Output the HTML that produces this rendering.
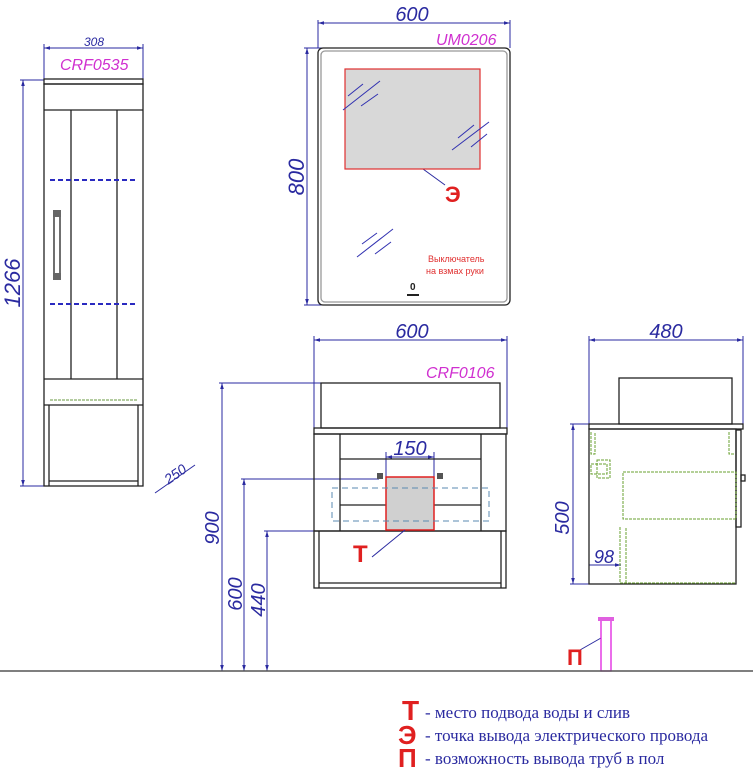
<!DOCTYPE html>
<html><head><meta charset="utf-8"><style>
html,body{margin:0;padding:0;background:#fff;}
svg{display:block;}
</style></head><body>
<svg width="753" height="771" viewBox="0 0 753 771" xmlns="http://www.w3.org/2000/svg" style="font-family:'Liberation Sans',sans-serif">
<defs>
<marker id="a" viewBox="0 0 10 10" refX="10" refY="5" markerWidth="8" markerHeight="6" orient="auto-start-reverse"><path d="M0,2 L10,5 L0,8 z" fill="#2a2aa0"/></marker>
</defs>
<g stroke="#2a2aa0" stroke-width="1" fill="none">
<line x1="44" y1="48" x2="143" y2="48" marker-start="url(#a)" marker-end="url(#a)"/>
<line x1="44" y1="44" x2="44" y2="80"/><line x1="143" y1="44" x2="143" y2="80"/>
<line x1="23" y1="80" x2="23" y2="486" marker-start="url(#a)" marker-end="url(#a)"/>
<line x1="20" y1="80" x2="44" y2="80"/><line x1="20" y1="486" x2="44" y2="486"/>
<line x1="155" y1="493" x2="195" y2="465"/>
<line x1="318" y1="23" x2="510" y2="23" marker-start="url(#a)" marker-end="url(#a)"/>
<line x1="318" y1="20" x2="318" y2="48"/><line x1="510" y1="20" x2="510" y2="48"/>
<line x1="307" y1="48" x2="307" y2="305" marker-start="url(#a)" marker-end="url(#a)"/>
<line x1="304" y1="48" x2="330" y2="48"/><line x1="304" y1="305" x2="330" y2="305"/>
<line x1="314" y1="340" x2="507" y2="340" marker-start="url(#a)" marker-end="url(#a)"/>
<line x1="314" y1="336" x2="314" y2="428"/><line x1="507" y1="336" x2="507" y2="428"/>
<line x1="222" y1="383" x2="222" y2="671" marker-start="url(#a)" marker-end="url(#a)"/>
<line x1="219" y1="383" x2="321" y2="383"/>
<line x1="244" y1="479" x2="244" y2="671" marker-start="url(#a)" marker-end="url(#a)"/>
<line x1="241" y1="479" x2="379" y2="479"/>
<line x1="267" y1="531" x2="267" y2="671" marker-start="url(#a)" marker-end="url(#a)"/>
<line x1="264" y1="531" x2="372" y2="531"/>
<line x1="386" y1="457" x2="434" y2="457" marker-start="url(#a)" marker-end="url(#a)"/>
<line x1="386" y1="452" x2="386" y2="477"/><line x1="434" y1="452" x2="434" y2="477"/>
<line x1="423" y1="169" x2="445" y2="185"/>
<line x1="589" y1="340" x2="743" y2="340" marker-start="url(#a)" marker-end="url(#a)"/>
<line x1="589" y1="336" x2="589" y2="424"/><line x1="743" y1="336" x2="743" y2="424"/>
<line x1="573" y1="424" x2="573" y2="584" marker-start="url(#a)" marker-end="url(#a)"/>
<line x1="570" y1="424" x2="589" y2="424"/><line x1="570" y1="584" x2="589" y2="584"/>
<line x1="589" y1="565" x2="621" y2="565" marker-end="url(#a)"/>
<line x1="580" y1="650" x2="601" y2="638"/>
</g>
<g fill="none" stroke="#222" stroke-width="1.3">
<rect x="44" y="79" width="99" height="5"/>
<rect x="44" y="84" width="99" height="402"/>
<line x1="44" y1="110" x2="143" y2="110"/>
<line x1="71" y1="110" x2="71" y2="379"/><line x1="117" y1="110" x2="117" y2="379"/>
<line x1="44" y1="379" x2="143" y2="379"/><line x1="44" y1="405" x2="143" y2="405"/>
<line x1="49" y1="405" x2="49" y2="486"/><line x1="138" y1="405" x2="138" y2="486"/>
<line x1="49" y1="481" x2="138" y2="481"/>
<rect x="54" y="211" width="6" height="68"/>
<rect x="318" y="48" width="192" height="257" rx="5"/>
<rect x="321" y="51" width="186" height="251" rx="4" stroke="#999"/>
<rect x="321" y="383" width="179" height="45"/>
<rect x="314" y="428" width="193" height="6"/>
<rect x="314" y="434" width="192" height="97"/>
<line x1="340" y1="434" x2="340" y2="531"/><line x1="481" y1="434" x2="481" y2="531"/>
<line x1="340" y1="459" x2="481" y2="459"/><line x1="340" y1="505" x2="481" y2="505"/>
<rect x="314" y="531" width="192" height="57"/>
<line x1="319" y1="531" x2="319" y2="588"/><line x1="501" y1="531" x2="501" y2="588"/>
<line x1="319" y1="583" x2="501" y2="583"/>
<rect x="619" y="378" width="113" height="46"/>
<rect x="589" y="424" width="154" height="5"/>
<rect x="589" y="429" width="147" height="155"/>
<rect x="736" y="430" width="5" height="97"/>
<rect x="741" y="475" width="4" height="6"/>
</g>
<rect x="53" y="210" width="8" height="7" fill="#666"/><rect x="53" y="273" width="8" height="7" fill="#666"/>
<rect x="345" y="69" width="135" height="100" fill="#d8d8d8" stroke="#e03030" stroke-width="1.2"/>
<rect x="386" y="477" width="48" height="53" fill="#d0d0d0" stroke="#e02020" stroke-width="1.5"/>
<line x1="372" y1="557" x2="405" y2="530" stroke="#2a2aa0"/>
<g stroke="#3030b0" stroke-width="1">
<line x1="343" y1="110" x2="380" y2="81"/><line x1="348" y1="96" x2="363" y2="84"/><line x1="361" y1="106" x2="378" y2="94"/>
<line x1="452" y1="150" x2="489" y2="122"/><line x1="458" y1="138" x2="474" y2="125"/><line x1="471" y1="147" x2="487" y2="134"/>
<line x1="357" y1="257" x2="393" y2="229"/><line x1="362" y1="244" x2="377" y2="233"/><line x1="375" y1="254" x2="391" y2="242"/>
</g>
<rect x="332" y="488" width="157" height="33" fill="none" stroke="#5a8ab0" stroke-dasharray="6,4"/>
<g stroke="#2a2ac0" stroke-width="2" stroke-dasharray="5,3"><line x1="50" y1="180" x2="138" y2="180"/><line x1="50" y1="304" x2="138" y2="304"/></g>
<line x1="50" y1="400" x2="138" y2="400" stroke="#6a9a40" stroke-dasharray="3,1"/>
<g fill="none" stroke="#6aa030" stroke-dasharray="3,1">
<rect x="623" y="472" width="113" height="47"/>
<path d="M620,527 V583 H736 M626,583 V527"/>
<path d="M591,432 V454 H595 V432 M729,432 V454 H734"/>
<rect x="591" y="464" width="16" height="10"/><rect x="597" y="460" width="13" height="18"/>
</g>
<rect x="377" y="473" width="6" height="6" fill="#555"/><rect x="437" y="473" width="6" height="6" fill="#555"/>
<rect x="601" y="620" width="10" height="51" fill="none" stroke="#e020e0" stroke-width="1.3"/>
<rect x="598" y="617" width="16" height="4" fill="#e060e0"/>
<line x1="0" y1="671" x2="753" y2="671" stroke="#555" stroke-width="1.5"/>
<g fill="#2a2aa0" font-style="italic">
<text x="94" y="46" font-size="12" text-anchor="middle">308</text>
<text x="412" y="21" font-size="20" text-anchor="middle">600</text>
<text x="412" y="338" font-size="20" text-anchor="middle">600</text>
<text x="666" y="338" font-size="20" text-anchor="middle">480</text>
<text x="410" y="455" font-size="20" text-anchor="middle">150</text>
<text x="604" y="563" font-size="18" text-anchor="middle">98</text>
<text transform="translate(20,283) rotate(-90)" font-size="22" text-anchor="middle">1266</text>
<text transform="translate(304,177) rotate(-90)" font-size="22" text-anchor="middle">800</text>
<text transform="translate(219,528) rotate(-90)" font-size="20" text-anchor="middle">900</text>
<text transform="translate(242,594) rotate(-90)" font-size="20" text-anchor="middle">600</text>
<text transform="translate(265,600) rotate(-90)" font-size="20" text-anchor="middle">440</text>
<text transform="translate(569,518) rotate(-90)" font-size="20" text-anchor="middle">500</text>
<text transform="translate(178,478) rotate(-35)" font-size="14" text-anchor="middle">250</text>
</g>
<g fill="#d030d0" font-style="italic" font-size="16">
<text x="60" y="70">CRF0535</text>
<text x="436" y="45">UM0206</text>
<text x="426" y="378">CRF0106</text>
</g>
<g fill="#e02020" font-weight="bold">
<text x="445" y="202" font-size="22">Э</text>
<text x="353" y="562" font-size="24">Т</text>
<text x="567" y="665" font-size="22">П</text>
<text x="402" y="720" font-size="28">Т</text>
<text x="398" y="744" font-size="26">Э</text>
<text x="398" y="767" font-size="26">П</text>
</g>
<g fill="#e03030" font-size="9"><text x="428" y="262">Выключатель</text><text x="426" y="274">на взмах руки</text></g>
<text x="410" y="290" font-size="10" font-weight="bold" fill="#222">0</text>
<rect x="407" y="294" width="12" height="2" fill="#222"/>
<g fill="#2a2aa0" style="font-family:'Liberation Serif',serif;font-size:17px">
<text x="425" y="718">- место подвода воды и слив</text>
<text x="425" y="741">-  точка вывода электрического провода</text>
<text x="425" y="764">- возможность вывода труб в пол</text>
</g>
</svg>
</body></html>
